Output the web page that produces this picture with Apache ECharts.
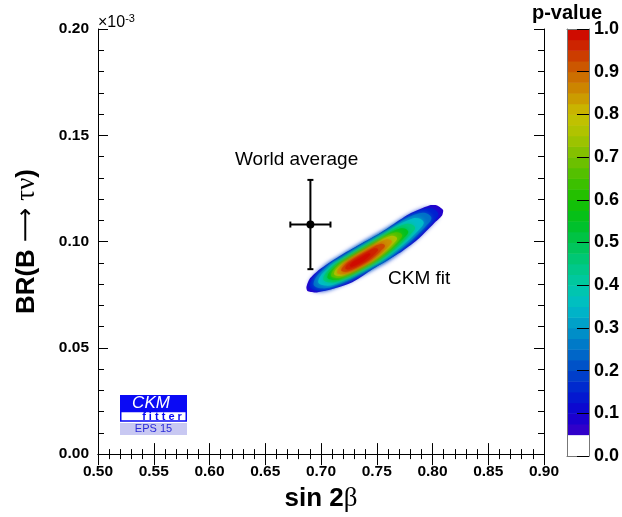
<!DOCTYPE html>
<html>
<head>
<meta charset="utf-8">
<script src="https://cdn.jsdelivr.net/npm/echarts@6/dist/echarts.min.js"></script>
<style>
  html, body { margin: 0; padding: 0; background: #ffffff; }
  #chart { width: 622px; height: 517px; }
</style>
</head>
<body>
<div id="chart"></div>
<script>
// ---- axis ranges and ticks ----
const xRange = [0.5, 0.9];
const xStep = 0.05;
const yRange = [0, 0.2];        // BR in units of 1e-3
const yStep = 0.05;
const pRange = [0, 1];          // colour scale (p-value)
const pStep = 0.1;

// ---- world average measurement: sin2beta, BR(B -> tau nu) ----
const worldAvg = [0.6905, 0.108];
const worldAvgErr = [0.018, 0.021];

// ---- CKM fit p-value contours (lowest level first) ----
// each entry: p-value shading value of the region inside the contour
const contourFill = [0.075, 0.15, 0.25, 0.35, 0.45, 0.55, 0.65, 0.75, 0.85, 0.925, 0.965, 0.99];
const contourShapes = [
  // p = 0.05
  [[0.6869,0.0786],[0.6896,0.0823],[0.6986,0.0868],[0.7164,0.0931],[0.7343,0.0985],[0.7477,0.1022],
   [0.7612,0.1069],[0.7791,0.1130],[0.7970,0.1170],[0.8041,0.1170],[0.8095,0.1149],[0.8086,0.1123],
   [0.8032,0.1095],[0.7880,0.1015],[0.7728,0.0954],[0.7549,0.0898],[0.7442,0.0863],[0.7281,0.0809],
   [0.7102,0.0777],[0.6950,0.0760],[0.6878,0.0767]],
  // p = 0.1
  [[0.6897,0.0793],[0.7007,0.0870],[0.7174,0.0929],[0.7595,0.1059],[0.7931,0.1154],[0.8049,0.1134],
   [0.7990,0.1084],[0.7704,0.0951],[0.7435,0.0865],[0.7116,0.0785],[0.6973,0.0769]],
  // p = 0.2
  [[0.6933,0.0803],[0.7034,0.0873],[0.7187,0.0927],[0.7572,0.1046],[0.7880,0.1133],[0.7988,0.1115],
   [0.7933,0.1068],[0.7672,0.0947],[0.7426,0.0869],[0.7134,0.0795],[0.7003,0.0780]],
  // p = 0.3
  [[0.6975,0.0813],[0.7065,0.0876],[0.7202,0.0925],[0.7547,0.1031],[0.7822,0.1109],[0.7919,0.1093],
   [0.7870,0.1051],[0.7636,0.0943],[0.7416,0.0872],[0.7154,0.0806],[0.7037,0.0793]],
  // p = 0.4
  [[0.7020,0.0825],[0.7099,0.0880],[0.7218,0.0922],[0.7518,0.1015],[0.7758,0.1082],[0.7842,0.1068],
   [0.7800,0.1032],[0.7596,0.0938],[0.7404,0.0877],[0.7177,0.0819],[0.7075,0.0808]],
  // p = 0.5
  [[0.7057,0.0834],[0.7126,0.0883],[0.7231,0.0920],[0.7496,0.1001],[0.7707,0.1061],[0.7781,0.1049],
   [0.7743,0.1017],[0.7564,0.0934],[0.7395,0.0880],[0.7195,0.0829],[0.7105,0.0819]],
  // p = 0.6
  [[0.7089,0.0843],[0.7150,0.0885],[0.7243,0.0918],[0.7476,0.0990],[0.7662,0.1042],[0.7727,0.1031],
   [0.7694,0.1003],[0.7536,0.0930],[0.7387,0.0883],[0.7210,0.0838],[0.7131,0.0829]],
  // p = 0.7
  [[0.7117,0.0850],[0.7171,0.0887],[0.7253,0.0916],[0.7459,0.0980],[0.7623,0.1026],[0.7681,0.1017],
   [0.7652,0.0992],[0.7512,0.0927],[0.7380,0.0885],[0.7224,0.0846],[0.7154,0.0838]],
  // p = 0.8
  [[0.7144,0.0857],[0.7191,0.0890],[0.7262,0.0915],[0.7442,0.0970],[0.7585,0.1010],[0.7635,0.1002],
   [0.7610,0.0980],[0.7488,0.0924],[0.7374,0.0888],[0.7238,0.0853],[0.7177,0.0846]],
  // p = 0.9
  [[0.7181,0.0866],[0.7219,0.0892],[0.7276,0.0913],[0.7419,0.0957],[0.7533,0.0989],[0.7573,0.0982],
   [0.7553,0.0965],[0.7456,0.0920],[0.7364,0.0891],[0.7256,0.0863],[0.7207,0.0858]],
  // p = 0.95
  [[0.7218,0.0876],[0.7246,0.0895],[0.7289,0.0910],[0.7396,0.0944],[0.7482,0.0968],[0.7512,0.0963],
   [0.7497,0.0950],[0.7424,0.0916],[0.7355,0.0894],[0.7274,0.0874],[0.7237,0.0869]],
  // p = 0.98
  [[0.7259,0.0886],[0.7277,0.0899],[0.7303,0.0908],[0.7371,0.0929],[0.7424,0.0944],[0.7443,0.0941],
   [0.7434,0.0933],[0.7388,0.0912],[0.7345,0.0898],[0.7294,0.0885],[0.7271,0.0882]]
];

// ---- p-value palette (0.05 .. 1.0, evenly spaced) ----
const palette = ['#3a00c8','#1000d0','#0020d0','#0048c8','#0070c8','#0098c8','#00bcc8','#00c8a8',
                 '#00c880','#00c450','#00c020','#18c000','#48c000','#78c000','#a8c400','#c8c000',
                 '#cc9000','#cc6400','#cc3000','#d00000'];
const paletteMin = 0.05;
const bandStep = 0.025;

const FONT = '"Liberation Sans", Arial, Helvetica, sans-serif';
const SERIF = '"Liberation Serif", "DejaVu Serif", serif';

// colour-scale bands [mid, lo, hi]
const bands = [[0.025, 0, paletteMin]];
for (let lo = paletteMin; lo < 1 - 1e-9; lo += bandStep) {
  const hi = Math.min(1, lo + bandStep);
  bands.push([(lo + hi) / 2, lo, hi]);
}

const chart = echarts.init(document.getElementById('chart'), null, { renderer: 'canvas' });

const tickLabel = { color: '#000', fontFamily: FONT, fontWeight: 'bold', fontSize: 15.5 };
const frameLine = { show: true, lineStyle: { color: '#000', width: 1 } };

function axisX(pos, showLabel, extra) {
  return Object.assign({
    type: 'value', gridIndex: 0, position: pos, min: xRange[0], max: xRange[1], interval: xStep,
    axisLine: frameLine, splitLine: { show: false },
    axisTick: { show: true, inside: true, length: 11, lineStyle: { color: '#000' } },
    minorTick: { show: true, splitNumber: 5, length: 5, lineStyle: { color: '#000' } },
    axisLabel: Object.assign({ show: showLabel, margin: 10, showMinLabel: true, showMaxLabel: true,
      formatter: v => v.toFixed(2) }, tickLabel),
    z: 5
  }, extra || {});
}
function axisY(pos, showLabel, extra) {
  return Object.assign({
    type: 'value', gridIndex: 0, position: pos, min: yRange[0], max: yRange[1], interval: yStep,
    axisLine: frameLine, splitLine: { show: false },
    axisTick: { show: true, inside: true, length: 10, lineStyle: { color: '#000' } },
    minorTick: { show: true, splitNumber: 5, length: 6, lineStyle: { color: '#000' } },
    axisLabel: Object.assign({ show: showLabel, margin: 9, showMinLabel: true, showMaxLabel: true,
      formatter: v => v.toFixed(2) }, tickLabel),
    z: 5
  }, extra || {});
}

const option = {
  backgroundColor: '#ffffff',
  animation: false,
  grid: [
    { left: 98, top: 29, width: 446, height: 428 },
    { left: 567, top: 29, width: 23, height: 427 }
  ],
  xAxis: [
    axisX('bottom', true, {
      name: '{b|sin 2}{s|β}', nameLocation: 'middle', nameGap: 30,
      nameTextStyle: { rich: {
        b: { fontFamily: FONT, fontWeight: 'bold', fontSize: 26, color: '#000' },
        s: { fontFamily: SERIF, fontSize: 27, color: '#000' } } }
    }),
    axisX('top', false),
    { type: 'value', gridIndex: 1, min: 0, max: 1, position: 'bottom', z: 5,
      axisLine: { show: true, onZero: false, lineStyle: { color: '#777' } },
      axisTick: { show: false }, axisLabel: { show: false }, splitLine: { show: false } },
    { type: 'value', gridIndex: 1, min: 0, max: 1, position: 'top', z: 5,
      axisLine: { show: true, onZero: false, lineStyle: { color: '#777' } },
      axisTick: { show: false }, axisLabel: { show: false }, splitLine: { show: false } }
  ],
  yAxis: [
    axisY('left', true, {
      name: '{b|BR(B }{a|⟶}{s| τν}{b|)}', nameLocation: 'middle', nameGap: 58, nameRotate: 90,
      nameTextStyle: { rich: {
        b: { fontFamily: FONT, fontWeight: 'bold', fontSize: 26, color: '#000' },
        a: { fontFamily: '"DejaVu Sans", sans-serif', fontSize: 24, color: '#000' },
        s: { fontFamily: SERIF, fontSize: 27, color: '#000' } } }
    }),
    axisY('right', false),
    { type: 'value', gridIndex: 1, min: pRange[0], max: pRange[1], interval: pStep, position: 'right', z: 5,
      axisLine: { show: true, onZero: false, lineStyle: { color: '#777' } },
      axisTick: { show: true, inside: true, length: 12, lineStyle: { color: '#000' } },
      axisLabel: { margin: 5, color: '#000', fontFamily: FONT, fontWeight: 'bold', fontSize: 18,
        formatter: v => v.toFixed(1) },
      splitLine: { show: false } },
    { type: 'value', gridIndex: 1, min: pRange[0], max: pRange[1], position: 'left', z: 5,
      axisLine: { show: true, onZero: false, lineStyle: { color: '#777' } },
      axisTick: { show: false }, axisLabel: { show: false }, splitLine: { show: false } }
  ],
  visualMap: {
    type: 'continuous', show: false, dimension: 0, min: paletteMin, max: 1,
    seriesIndex: [0, 2], inRange: { color: palette }, outOfRange: { color: '#ffffff' }
  },
  series: [
    {
      // CKM fit p-value regions
      type: 'custom', xAxisIndex: 0, yAxisIndex: 0, clip: false, z: 2,
      data: contourFill.map(v => [v]),
      renderItem: function (params, api) {
        const pts = contourShapes[params.dataIndex].map(p => api.coord(p));
        const color = api.visual('color');
        const outer = params.dataIndex === 0;
        return {
          type: 'polygon',
          shape: { points: pts, smooth: outer ? 0.2 : 0.45 },
          style: { fill: color, shadowBlur: outer ? 0 : 5, shadowColor: color }
        };
      }
    },
    {
      // world average with error bars
      type: 'custom', xAxisIndex: 0, yAxisIndex: 0, clip: false, z: 4,
      data: [[worldAvg[0], worldAvg[1], worldAvgErr[0], worldAvgErr[1]]],
      renderItem: function (params, api) {
        const x = api.value(0), y = api.value(1), ex = api.value(2), ey = api.value(3);
        const c = api.coord([x, y]);
        const l = api.coord([x - ex, y]), r = api.coord([x + ex, y]);
        const t = api.coord([x, y + ey]), b = api.coord([x, y - ey]);
        const ls = { stroke: '#000', lineWidth: 2 };
        const cap = 3;
        return { type: 'group', children: [
          { type: 'line', shape: { x1: l[0], y1: l[1], x2: r[0], y2: r[1] }, style: ls },
          { type: 'line', shape: { x1: t[0], y1: t[1], x2: b[0], y2: b[1] }, style: ls },
          { type: 'line', shape: { x1: l[0], y1: l[1] - cap, x2: l[0], y2: l[1] + cap }, style: ls },
          { type: 'line', shape: { x1: r[0], y1: r[1] - cap, x2: r[0], y2: r[1] + cap }, style: ls },
          { type: 'line', shape: { x1: t[0] - cap, y1: t[1], x2: t[0] + cap, y2: t[1] }, style: ls },
          { type: 'line', shape: { x1: b[0] - cap, y1: b[1], x2: b[0] + cap, y2: b[1] }, style: ls },
          { type: 'circle', shape: { cx: c[0], cy: c[1], r: 4 }, style: { fill: '#000' } }
        ] };
      }
    },
    {
      // colour scale bar
      type: 'custom', xAxisIndex: 2, yAxisIndex: 2, clip: false, z: 2,
      data: bands,
      renderItem: function (params, api) {
        const lo = api.value(1), hi = api.value(2);
        const p0 = api.coord([0, hi]), p1 = api.coord([1, lo]);
        const fill = api.value(0) < paletteMin ? '#ffffff' : api.visual('color');
        return { type: 'rect', shape: { x: p0[0], y: p0[1], width: p1[0] - p0[0], height: p1[1] - p0[1] + 0.5 },
                 style: { fill: fill } };
      }
    }
  ],
  graphic: [
    { type: 'text', left: 98, top: 13, z: 10,
      style: { text: '×10{e|-3}', rich: { e: { fontSize: 11, fontFamily: FONT, verticalAlign: 'top', padding: [0, 0, 8, 0] } },
               fontFamily: FONT, fontSize: 16, fill: '#000' } },
    { type: 'text', x: 567, y: 13, z: 10,
      style: { text: 'p-value', fontFamily: FONT, fontWeight: 'bold', fontSize: 20, fill: '#000',
               align: 'center', verticalAlign: 'middle' } },
    { type: 'text', x: 235, y: 160, z: 10,
      style: { text: 'World average', fontFamily: FONT, fontSize: 19, fill: '#000', verticalAlign: 'middle' } },
    { type: 'text', x: 388, y: 279, z: 10,
      style: { text: 'CKM fit', fontFamily: FONT, fontSize: 19, fill: '#000', verticalAlign: 'middle' } },
    // CKMfitter badge
    { type: 'group', x: 120, y: 395, z: 10, children: [
      { type: 'rect', shape: { x: 0, y: 0, width: 67, height: 16.5 }, style: { fill: '#0a0af5' } },
      { type: 'text', x: 31, y: 8.5, style: { text: 'CKM', fontFamily: FONT, fontStyle: 'italic', fontSize: 17,
          fill: '#fff', align: 'center', verticalAlign: 'middle' } },
      { type: 'rect', shape: { x: 0.75, y: 16.5, width: 65.5, height: 9.5 },
        style: { fill: '#fff', stroke: '#0a0af5', lineWidth: 1.5 } },
      { type: 'text', x: 42, y: 21.5, style: { text: 'f i t t e r', fontFamily: FONT, fontWeight: 'bold', fontSize: 11,
          fill: '#0a0af5', align: 'center', verticalAlign: 'middle' } },
      { type: 'rect', shape: { x: 0, y: 28, width: 67, height: 12 }, style: { fill: '#c8c8f2' } },
      { type: 'text', x: 33.5, y: 34, style: { text: 'EPS 15', fontFamily: FONT, fontSize: 11,
          fill: '#2a2ad8', align: 'center', verticalAlign: 'middle' } }
    ] }
  ]
};

chart.setOption(option);
</script>
</body>
</html>
